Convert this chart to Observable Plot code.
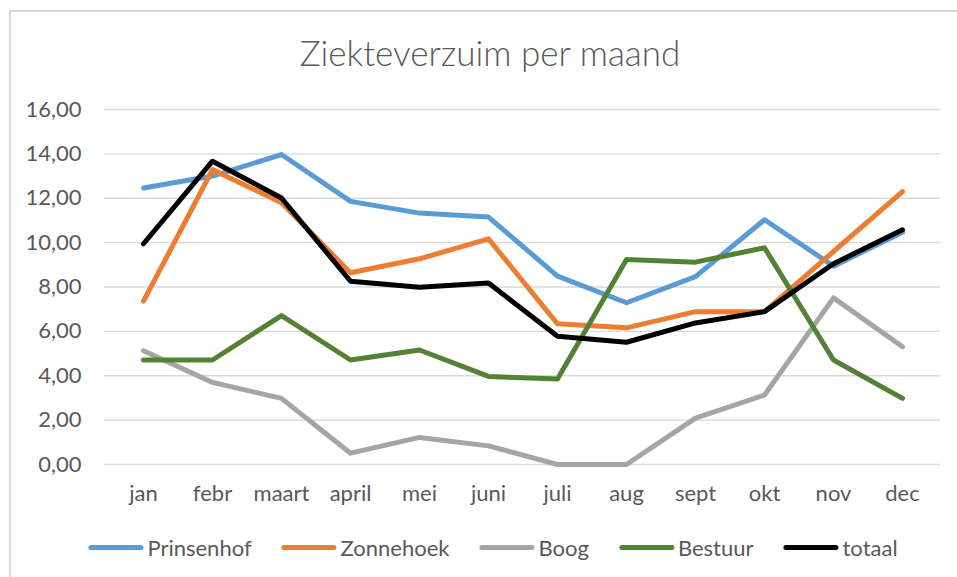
<!DOCTYPE html>
<html>
<head>
<meta charset="utf-8">
<script src="https://cdn.jsdelivr.net/npm/d3@7"></script>
<script src="https://cdn.jsdelivr.net/npm/@observablehq/plot@0.6"></script>
<style>
  html, body { margin: 0; padding: 0; background: #fff; }
  #wrap { position: relative; width: 957px; height: 577px; overflow: hidden; font-family: Lato, "Open Sans", sans-serif; }
  #frame { position: absolute; left: 9px; top: 10px; width: 1000px; height: 700px; border-left: 2px solid #d9d9d9; border-top: 2px solid #d9d9d9; box-sizing: border-box; }
  #title { position: absolute; left: 490px; top: 31px; transform: translateX(-50%); white-space: nowrap; font-size: 35px; font-weight: 300; color: #595959; }
  #chart { position: absolute; left: 0; top: 0; }
  #legend { position: absolute; left: 493px; top: 534px; transform: translateX(-50%); display: flex; gap: 30px; white-space: nowrap; font-size: 22px; color: #595959; }
  .item { display: flex; align-items: center; }
  .sw { width: 55px; height: 5px; border-radius: 3px; margin-right: 4px; }
</style>
</head>
<body>
<div id="wrap">
  <div id="frame"></div>
  <div id="title">Ziekteverzuim per maand</div>
  <div id="chart"></div>
  <div id="legend"></div>
</div>
<script>
const months = ["jan","febr","maart","april","mei","juni","juli","aug","sept","okt","nov","dec"];
const seriesNames = ["Prinsenhof","Zonnehoek","Boog","Bestuur","totaal"];
const seriesColors = ["#5B9BD5","#ED7D31","#A5A5A5","#548235","#000000"];
const prinsenhof = [12.46,13.00,13.97,11.86,11.33,11.15,8.49,7.29,8.47,11.03,8.94,10.47];
const zonnehoek  = [7.36,13.29,11.80,8.64,9.27,10.17,6.34,6.16,6.89,6.89,9.60,12.30];
const boog       = [5.13,3.70,2.98,0.51,1.22,0.84,0.00,0.00,2.09,3.13,7.51,5.31];
const bestuur    = [4.71,4.71,6.71,4.71,5.16,3.97,3.85,9.24,9.12,9.77,4.71,2.98];
const totaal     = [9.95,13.67,12.01,8.26,7.99,8.18,5.78,5.51,6.38,6.89,9.05,10.58];
const yTicks = [0,2,4,6,8,10,12,14,16];

const seriesValues = [prinsenhof, zonnehoek, boog, bestuur, totaal];
const rows = [];
seriesNames.forEach((name, i) => {
  months.forEach((m, j) => rows.push({serie: name, maand: m, waarde: seriesValues[i][j]}));
});

const fmt = d => d.toFixed(2).replace(".", ",");

const chart = Plot.plot({
  width: 957,
  height: 577,
  marginLeft: 104,
  marginRight: 17,
  marginTop: 109,
  marginBottom: 113,
  style: { fontFamily: "Lato, 'Open Sans', sans-serif", fontSize: "22px", color: "#595959", background: "transparent" },
  x: { type: "point", domain: months, padding: 0.5, label: null },
  y: { domain: [0, 16], label: null },
  color: { domain: seriesNames, range: seriesColors },
  marks: [
    Plot.ruleY(yTicks, { stroke: "#d9d9d9", strokeWidth: 1.3 }),
    Plot.axisY({ ticks: yTicks, tickFormat: fmt, tickSize: 0, tickPadding: 23, fontSize: 22, fill: "#595959", label: null }),
    Plot.axisX({ tickSize: 0, tickPadding: 21, fontSize: 22, fill: "#595959", label: null }),
    Plot.line(rows, { x: "maand", y: "waarde", z: "serie", stroke: "serie", strokeWidth: 5, strokeLinejoin: "round", strokeLinecap: "round" })
  ]
});
document.getElementById("chart").appendChild(chart);

const legend = document.getElementById("legend");
seriesNames.forEach((name, i) => {
  const item = document.createElement("div");
  item.className = "item";
  const sw = document.createElement("div");
  sw.className = "sw";
  sw.style.background = seriesColors[i];
  const t = document.createElement("span");
  t.textContent = name;
  item.appendChild(sw);
  item.appendChild(t);
  legend.appendChild(item);
});
</script>
</body>
</html>
